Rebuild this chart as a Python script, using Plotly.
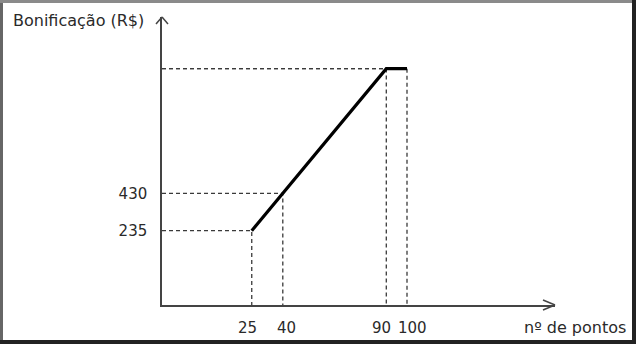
import plotly.graph_objects as go

# ---- data ----
pontos = [25, 40, 90, 100]          # nº de pontos
bonificacao = [235, 430, 1080, 1080]  # Bonificação (R$)
x_tick_labels = ["25", "40", "90", "100"]
y_tick_values = [235, 430]
y_tick_labels = ["235", "430"]

# ---- layout constants ----
W, H = 636, 344
L, R, T, B = 162, 81, 17, 39
X_RANGE = [-18.36, 171.5]
Y_RANGE = [-152.6, 1349.7]
X_LABEL_NUDGE = [-4, 4, -5, 5]      # pixel nudges so close labels don't collide
AXIS_COLOR = "#444444"
GUIDE_COLOR = "#3a3a3a"
TEXT_COLOR = "#2a2a2a"
FONT = "DejaVu Sans"

fig = go.Figure()

# dashed guide lines from each point to both axes
for xv, yv in zip(pontos, bonificacao):
    fig.add_trace(go.Scatter(
        x=[X_RANGE[0], xv, xv], y=[yv, yv, Y_RANGE[0]],
        mode="lines", line=dict(color=GUIDE_COLOR, width=1.3, dash="4px,3px"),
        hoverinfo="skip", showlegend=False, cliponaxis=False))

# main line
fig.add_trace(go.Scatter(
    x=pontos, y=bonificacao, mode="lines",
    line=dict(color="#000000", width=3.2),
    showlegend=False, cliponaxis=False))

pw = W - L - R
ph = H - T - B


def px_x(p):
    return (p - L) / pw


def px_y(p):
    return (H - B - p) / ph


shapes = []
# axis arrowheads (open chevrons)
for dx, dy in [(-12, 5), (-12, -5)]:
    shapes.append(dict(type="line", xref="x domain", yref="y domain",
                       xsizemode="pixel", ysizemode="pixel",
                       xanchor=1, yanchor=0, x0=dx, y0=dy, x1=0, y1=0,
                       line=dict(color=AXIS_COLOR, width=1.5)))
for dx, dy in [(-6, -7), (6, -7)]:
    shapes.append(dict(type="line", xref="x domain", yref="y domain",
                       xsizemode="pixel", ysizemode="pixel",
                       xanchor=0, yanchor=1, x0=dx, y0=dy, x1=0, y1=0,
                       line=dict(color=AXIS_COLOR, width=1.5)))
# picture frame
shapes += [
    dict(type="line", xref="paper", yref="paper", x0=px_x(1.5), x1=px_x(1.5),
         y0=px_y(0), y1=px_y(H), line=dict(color="#666666", width=3)),
    dict(type="line", xref="paper", yref="paper", x0=px_x(0), x1=px_x(W),
         y0=px_y(1.5), y1=px_y(1.5), line=dict(color="#8a8a8a", width=3)),
    dict(type="line", xref="paper", yref="paper", x0=px_x(634), x1=px_x(634),
         y0=px_y(0), y1=px_y(H), line=dict(color="#222222", width=4)),
    dict(type="line", xref="paper", yref="paper", x0=px_x(0), x1=px_x(W),
         y0=px_y(342), y1=px_y(342), line=dict(color="#222222", width=4)),
]

annotations = [
    dict(text="Bonificação (R$)", xref="paper", yref="paper",
         x=px_x(146), y=px_y(21), xanchor="right", yanchor="middle",
         showarrow=False, font=dict(family=FONT, size=16, color=TEXT_COLOR)),
    dict(text="nº de pontos", xref="paper", yref="paper",
         x=px_x(628), y=px_y(327), xanchor="right", yanchor="middle",
         showarrow=False, font=dict(family=FONT, size=16, color=TEXT_COLOR)),
]
# x tick labels (placed at the data values, nudged apart)
for xv, lab, nudge in zip(pontos, x_tick_labels, X_LABEL_NUDGE):
    annotations.append(dict(
        text=lab, xref="x", yref="paper", x=xv, y=px_y(328),
        xanchor="center", yanchor="middle", xshift=nudge, showarrow=False,
        font=dict(family=FONT, size=15, color=TEXT_COLOR)))

fig.update_layout(
    width=W, height=H,
    margin=dict(l=L, r=R, t=T, b=B, pad=0),
    paper_bgcolor="white", plot_bgcolor="white",
    shapes=shapes, annotations=annotations,
    xaxis=dict(range=X_RANGE, showgrid=False, zeroline=False,
               showline=True, linecolor=AXIS_COLOR, linewidth=1.5,
               tickmode="array", tickvals=pontos, ticktext=x_tick_labels,
               showticklabels=False, ticks="", automargin=False),
    yaxis=dict(range=Y_RANGE, showgrid=False, zeroline=False,
               showline=True, linecolor=AXIS_COLOR, linewidth=1.5,
               tickmode="array", tickvals=y_tick_values, ticktext=y_tick_labels,
               ticks="", ticklabelstandoff=10, automargin=False,
               tickfont=dict(family=FONT, size=15, color=TEXT_COLOR)),
)

fig.write_html("out.html", config={"displayModeBar": False})
